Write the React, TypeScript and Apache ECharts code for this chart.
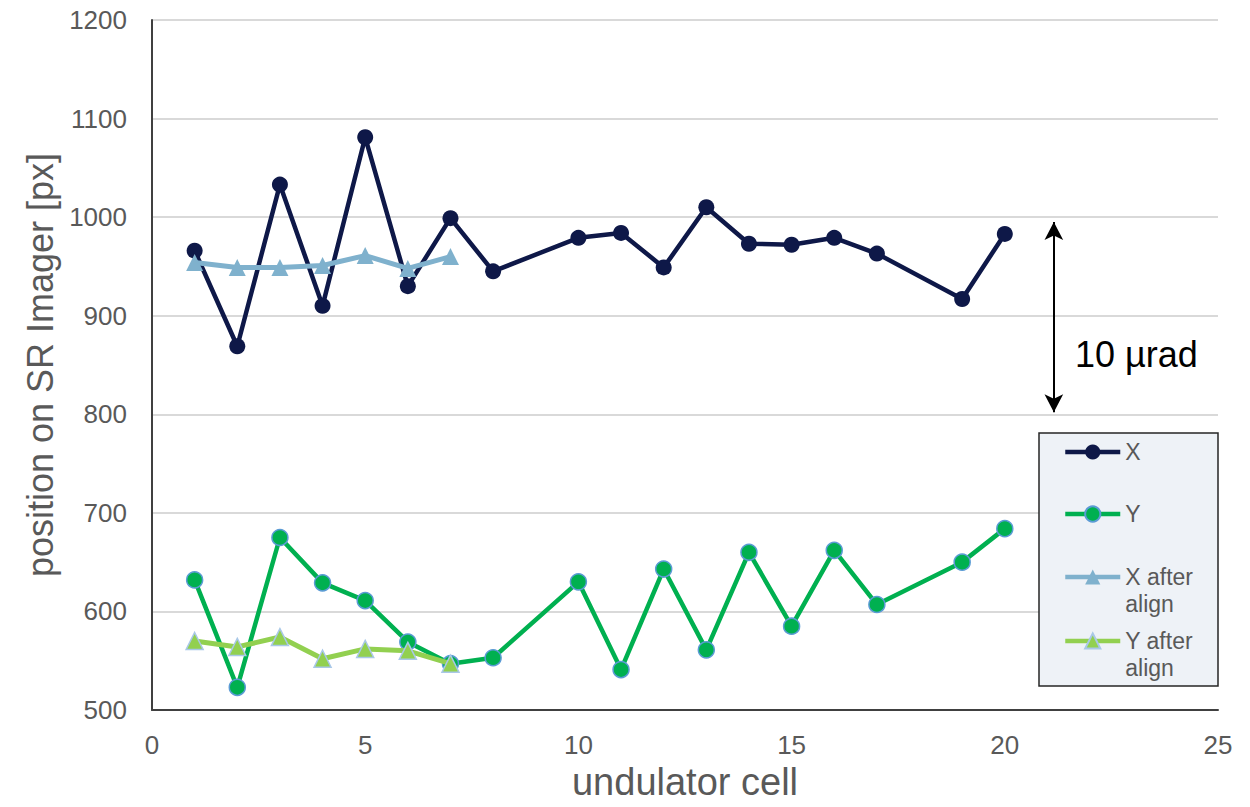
import React, { useEffect, useRef } from "react";
import * as echarts from "echarts";

const cells = [1, 2, 3, 4, 5, 6, 7, 8, 10, 11, 12, 13, 14, 15, 16, 17, 19, 20];
const xValues = [966, 869, 1033, 910, 1081, 930, 999, 945, 979, 984, 949, 1010, 973, 972, 979, 963, 917, 983];
const yValues = [632, 523, 675, 629, 611, 569, 547, 553, 630, 541, 643, 561, 660, 585, 662, 607, 650, 684];
const alignCells = [1, 2, 3, 4, 5, 6, 7];
const xAfter = [954, 949, 949, 951, 961, 948, 960];
const yAfter = [570, 564, 574, 552, 562, 560, 547];
const seriesNames = ["X", "Y", "X after align", "Y after align"];
const arrowCell = 21.15;
const arrowRange = [995, 802];
const arrowLabel = "10 µrad";

const pairs = (xs: number[], ys: number[]) => xs.map((x, i) => [x, ys[i]]);

const FONT = "'Liberation Sans', Arial, sans-serif";
const GREY = "#595959";

export default function App() {
  const ref = useRef<HTMLDivElement>(null);
  useEffect(() => {
    const chart = echarts.init(ref.current!, null, { renderer: "svg" });
    const lt = { fontSize: 23, color: GREY, fontFamily: FONT, lineHeight: 27 };
    const legendBase = {
      orient: "vertical",
      left: 1063,
      padding: 0,
      itemWidth: 55,
      itemHeight: 19,
      itemGap: 0,
      z: 20,
      selectedMode: false,
      textStyle: lt,
      lineStyle: { width: 4.5 },
    };
    const multi = (n: string) => "\n" + n.replace(" align", "\nalign");
    chart.setOption({
      animation: false,
      grid: { left: 152, right: 32, top: 20, bottom: 97 },
      xAxis: {
        type: "value",
        min: 0,
        max: 25,
        interval: 5,
        name: "undulator cell",
        nameLocation: "middle",
        nameGap: 50,
        nameTextStyle: { fontSize: 38, color: GREY, fontFamily: FONT },
        axisLine: { show: true, lineStyle: { color: "#404040", width: 2 } },
        axisTick: { show: false },
        axisLabel: { fontSize: 26, color: GREY, fontFamily: FONT, margin: 22 },
        splitLine: { show: false },
      },
      yAxis: {
        type: "value",
        min: 500,
        max: 1200,
        interval: 100,
        name: "position on SR Imager [px]",
        nameLocation: "middle",
        nameGap: 94,
        nameTextStyle: { fontSize: 36, color: GREY, fontFamily: FONT },
        axisLine: { show: true, lineStyle: { color: "#404040", width: 2 } },
        axisTick: { show: false },
        axisLabel: {
          fontSize: 26,
          color: GREY,
          fontFamily: FONT,
          margin: 25,
          formatter: (v: number) => String(v),
        },
        splitLine: { show: true, lineStyle: { color: "#D9D9D9", width: 2 } },
      },
      legend: [
        { ...legendBase, top: 438.5, data: [seriesNames[0]] },
        { ...legendBase, top: 500.5, data: [seriesNames[1]] },
        { ...legendBase, top: 536.5, formatter: multi, data: [seriesNames[2]] },
        { ...legendBase, top: 600.5, formatter: multi, data: [seriesNames[3]] },
      ],
      graphic: [
        {
          type: "rect",
          z: 10,
          shape: { x: 1039, y: 433, width: 179, height: 253 },
          style: { fill: "#EEF2F7", stroke: "#262626", lineWidth: 1.5 },
        },
        {
          type: "text",
          z: 10,
          x: 1075,
          y: 354,
          style: {
            text: arrowLabel,
            fontSize: 36,
            fontFamily: FONT,
            fill: "#000000",
            verticalAlign: "middle",
            align: "left",
          },
        },
      ],
      series: [
        {
          name: seriesNames[0],
          type: "line",
          data: pairs(cells, xValues),
          symbol: "circle",
          symbolSize: 16,
          lineStyle: { color: "#0E1848", width: 4.5 },
          itemStyle: { color: "#0E1848" },
          z: 2,
          markLine: {
            silent: true,
            symbol: ["arrow", "arrow"],
            symbolSize: [14, 18],
            label: { show: false },
            lineStyle: { color: "#000000", width: 2, type: "solid" },
            data: [[{ coord: [arrowCell, arrowRange[0]] }, { coord: [arrowCell, arrowRange[1]] }]],
          },
        },
        {
          name: seriesNames[1],
          type: "line",
          data: pairs(cells, yValues),
          symbol: "circle",
          symbolSize: 16,
          lineStyle: { color: "#00B050", width: 4.5 },
          itemStyle: { color: "#00B050", borderColor: "#5B9BD5", borderWidth: 1.5 },
          z: 3,
        },
        {
          name: seriesNames[2],
          type: "line",
          data: pairs(alignCells, xAfter),
          symbol: "triangle",
          symbolSize: 17,
          lineStyle: { color: "#7FB1CD", width: 5 },
          itemStyle: { color: "#7FB1CD" },
          z: 4,
        },
        {
          name: seriesNames[3],
          type: "line",
          data: pairs(alignCells, yAfter),
          symbol: "triangle",
          symbolSize: 17,
          lineStyle: { color: "#92D050", width: 5 },
          itemStyle: { color: "#92D050", borderColor: "#A9C8E8", borderWidth: 1.5 },
          z: 5,
        },
      ],
    });
    return () => chart.dispose();
  }, []);
  return <div ref={ref} style={{ width: 1250, height: 807, margin: -8 }} />;
}
